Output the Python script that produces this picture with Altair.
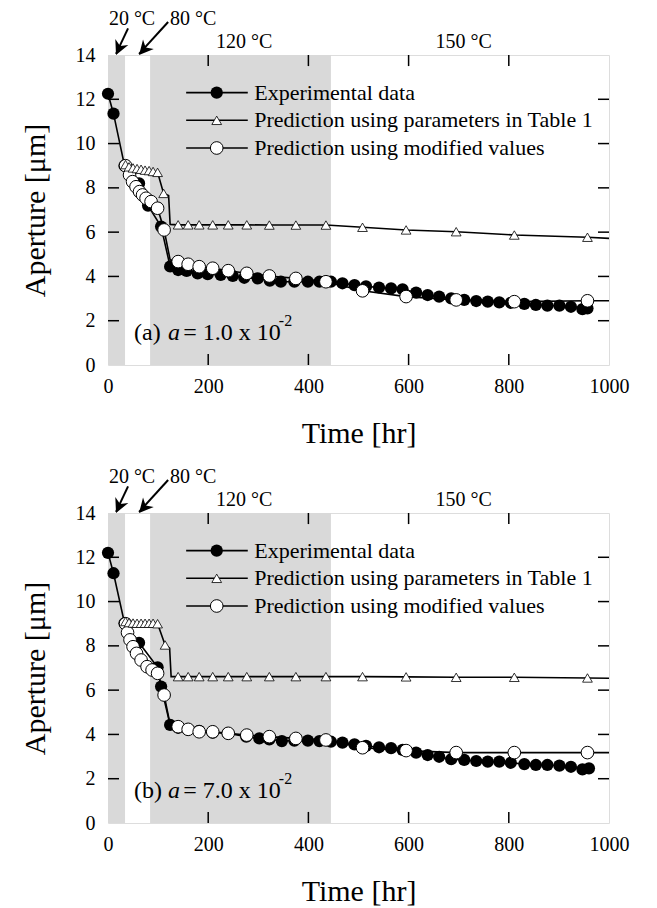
import altair as alt
import pandas as pd

FONT = "Liberation Serif"

# ---------------- data: panel (a) ----------------
exp_a_t = [0, 11, 33, 62, 80, 106, 124, 140, 157, 179, 199, 225, 249, 272, 299, 323, 345, 372, 399, 422, 445,
           468, 492, 515, 541, 565, 588, 615, 638, 661, 685, 711, 735, 758, 781, 804, 831, 854, 877, 901, 924, 947, 957]
exp_a = [12.25, 11.35, 9.0, 8.2, 7.2, 6.25, 4.45, 4.29, 4.25, 4.14, 4.1, 4.07, 4.02, 3.94, 3.91, 3.81, 3.76, 3.76, 3.76, 3.76, 3.76,
         3.69, 3.61, 3.55, 3.5, 3.46, 3.42, 3.27, 3.16, 3.09, 3.01, 2.94, 2.89, 2.86, 2.83, 2.81, 2.76, 2.71, 2.68, 2.68, 2.63, 2.52, 2.56]

tri_a_t = [35, 42, 50, 58, 66, 74, 82, 90, 99, 111, 140, 160, 182, 209, 240, 277, 322, 375, 435, 508, 595, 695, 811, 957]
tri_a = [9.05, 8.95, 8.9, 8.87, 8.84, 8.8, 8.78, 8.74, 8.7, 7.75, 6.33, 6.33, 6.33, 6.33, 6.33, 6.33, 6.32, 6.32, 6.32, 6.22,
         6.1, 6.02, 5.87, 5.77]
tri_a_line_t = [121, 124, 1000]
tri_a_line = [7.65, 6.35, 5.72]

mod_a_t = [35, 43, 49, 56, 63, 69, 76, 86, 99, 112, 140, 160, 182, 209, 240, 277, 322, 375, 435, 508, 595, 695, 811, 957]
mod_a = [9.0, 8.58, 8.28, 8.05, 7.83, 7.68, 7.53, 7.38, 7.08, 6.1, 4.67, 4.55, 4.44, 4.37, 4.26, 4.14, 4.02, 3.91, 3.76, 3.35,
         3.09, 2.94, 2.86, 2.9]
mod_a_line_t = [124, 1000]
mod_a_line = [4.75, 2.9]

# ---------------- data: panel (b) ----------------
exp_b_t = [0, 11, 33, 62, 99, 106, 124, 140, 159, 182, 209, 239, 276, 302, 322, 347, 372, 399, 422, 445, 468, 492, 515,
           541, 565, 588, 615, 638, 661, 685, 711, 735, 758, 781, 804, 831, 854, 877, 901, 924, 947, 960]
exp_b = [12.2, 11.28, 9.02, 8.14, 7.03, 6.16, 4.43, 4.3, 4.23, 4.16, 4.08, 4.05, 3.9, 3.82, 3.78, 3.7, 3.72, 3.72, 3.7, 3.67,
         3.63, 3.55, 3.48, 3.42, 3.38, 3.3, 3.18, 3.07, 2.99, 2.88, 2.85, 2.8, 2.77, 2.77, 2.72, 2.66, 2.62, 2.62, 2.59, 2.54, 2.42, 2.47]

tri_b_t = [35, 42, 50, 58, 66, 74, 82, 90, 99, 114, 140, 160, 182, 209, 240, 277, 322, 375, 435, 508, 595, 695, 811, 957]
tri_b = [9.1, 9.05, 9.03, 9.02, 9.02, 9.02, 9.02, 9.02, 9.0, 8.04, 6.61, 6.61, 6.61, 6.61, 6.61, 6.61, 6.61, 6.61, 6.61, 6.61,
         6.6, 6.58, 6.58, 6.55]
tri_b_line_t = [123, 126, 1000]
tri_b_line = [7.9, 6.61, 6.54]

mod_b_t = [35, 39, 44, 50, 57, 66, 78, 88, 99, 112, 140, 160, 182, 209, 240, 277, 322, 375, 435, 508, 595, 695, 811, 957]
mod_b = [9.0, 8.6, 8.27, 7.96, 7.66, 7.36, 7.06, 6.91, 6.76, 5.78, 4.35, 4.23, 4.12, 4.12, 4.05, 3.97, 3.9, 3.82, 3.75, 3.4,
         3.27, 3.18, 3.18, 3.18]
mod_b_line_t = [124, 1000]
mod_b_line = [4.45, 3.18]

# shaded temperature stages (hr)
shade_start = [0, 84]
shade_end = [34, 445]

# labels
legend_labels = ["Experimental data", "Prediction using parameters in Table 1", "Prediction using modified values"]
legend_y = [12.3, 11.05, 9.8]
temp_labels = ["20 °C", "80 °C", "120 °C", "150 °C"]
temp_t = [48, 170, 272, 710]
temp_y = [15.36, 15.36, 14.32, 14.32]
x_ticks = [0, 200, 400, 600, 800, 1000]
y_ticks = [0, 2, 4, 6, 8, 10, 12, 14]

XS = alt.Scale(domain=[0, 1000], nice=False, zero=False)
YS = alt.Scale(domain=[0, 14], nice=False, zero=False)
XAX = alt.Axis(values=x_ticks, format="d", ticks=False, domain=False, grid=False, labelFont=FONT, labelFontSize=20,
               labelColor="black", labelPadding=11, title="Time [hr]", titleFont=FONT, titleFontSize=30,
               titleFontWeight="normal", titleColor="black", titlePadding=22, labelFlush=False)
YAX = alt.Axis(values=y_ticks, ticks=False, domain=False, grid=False, labelFont=FONT, labelFontSize=20,
               labelColor="black", labelPadding=13, title="Aperture [μm]", titleFont=FONT, titleFontSize=30,
               titleFontWeight="normal", titleColor="black", titlePadding=25, labelFlush=False)


def X(f):
    return alt.X(f, type="quantitative", scale=XS, axis=XAX)


def Y(f):
    return alt.Y(f, type="quantitative", scale=YS, axis=YAX)


def series(t, a, lt, la):
    pts = pd.DataFrame({"t": t, "a": a})
    line = pd.concat([pts, pd.DataFrame({"t": lt, "a": la})]).sort_values("t")
    return pts, line


def panel(exp_t, exp_v, tri_t, tri_v, tri_lt, tri_lv, mod_t, mod_v, mod_lt, mod_lv, tag, coef):
    layers = []
    shade = pd.DataFrame({"t0": shade_start, "t1": shade_end, "y0": [0, 0], "y1": [14, 14]})
    layers.append(alt.Chart(shade).mark_rect(color="#d9d9d9").encode(x=X("t0"), x2="t1", y=Y("y0"), y2="y1"))

    # inward ticks
    tk = []
    for v in [2, 4, 6, 8, 10, 12]:
        tk.append({"x0": 0, "x1": 22, "y0": v, "y1": v})
        tk.append({"x0": 978, "x1": 1000, "y0": v, "y1": v})
    for v in [200, 400, 600, 800]:
        tk.append({"x0": v, "x1": v, "y0": 0, "y1": 0.5})
        tk.append({"x0": v, "x1": v, "y0": 13.5, "y1": 14})
    layers.append(alt.Chart(pd.DataFrame(tk)).mark_rule(color="black", strokeWidth=1.5).encode(
        x=X("x0"), x2="x1", y=Y("y0"), y2="y1"))

    e_pts, e_line = series(exp_t, exp_v, [], [])
    t_pts, t_line = series(tri_t, tri_v, tri_lt, tri_lv)
    m_pts, m_line = series(mod_t, mod_v, mod_lt, mod_lv)

    for ln in [e_line, t_line, m_line]:
        layers.append(alt.Chart(ln).mark_line(color="black", strokeWidth=1.6).encode(x=X("t"), y=Y("a")))
    layers.append(alt.Chart(e_pts).mark_point(shape="circle", filled=True, color="black", size=150, opacity=1)
                  .encode(x=X("t"), y=Y("a")))
    layers.append(alt.Chart(m_pts).mark_point(shape="circle", filled=True, fill="white", stroke="black",
                                              strokeWidth=1, size=160, opacity=1).encode(x=X("t"), y=Y("a")))
    layers.append(alt.Chart(t_pts).mark_point(shape="triangle-up", filled=True, fill="white", stroke="black",
                                              strokeWidth=0.8, size=95, opacity=1).encode(x=X("t"), y=Y("a")))

    # legend
    leg_line = pd.DataFrame({"x0": [156] * 3, "x1": [279] * 3, "y": legend_y})
    layers.append(alt.Chart(leg_line).mark_rule(color="black", strokeWidth=1.6).encode(
        x=X("x0"), x2="x1", y=Y("y")))
    mk = pd.DataFrame({"t": [217], "a": [legend_y[0]]})
    layers.append(alt.Chart(mk).mark_point(shape="circle", filled=True, color="black", size=150, opacity=1)
                  .encode(x=X("t"), y=Y("a")))
    mk = pd.DataFrame({"t": [217], "a": [legend_y[1]]})
    layers.append(alt.Chart(mk).mark_point(shape="triangle-up", filled=True, fill="white", stroke="black",
                                           strokeWidth=0.8, size=95, opacity=1).encode(x=X("t"), y=Y("a")))
    mk = pd.DataFrame({"t": [217], "a": [legend_y[2]]})
    layers.append(alt.Chart(mk).mark_point(shape="circle", filled=True, fill="white", stroke="black",
                                           strokeWidth=1, size=160, opacity=1).encode(x=X("t"), y=Y("a")))
    lt = pd.DataFrame({"t": [292] * 3, "a": legend_y, "s": legend_labels})
    layers.append(alt.Chart(lt).mark_text(align="left", baseline="middle", font=FONT, fontSize=22, color="black")
                  .encode(x=X("t"), y=Y("a"), text="s:N"))

    # temperature labels and arrows
    tl = pd.DataFrame({"t": temp_t, "a": temp_y, "s": temp_labels})
    layers.append(alt.Chart(tl).mark_text(align="center", baseline="alphabetic", font=FONT, fontSize=20,
                                          color="black").encode(x=X("t"), y=Y("a"), text="s:N"))
    arr = pd.DataFrame({"x0": [40, 120], "x1": [16, 62], "y0": [15.2, 15.49], "y1": [14.05, 14.05]})
    layers.append(alt.Chart(arr).mark_rule(color="black", strokeWidth=2).encode(
        x=X("x0"), x2="x1", y=Y("y0"), y2="y1"))
    heads = pd.DataFrame({"t": [16, 62], "a": [14.0, 14.0], "ang": [24, 41]})
    layers.append(alt.Chart(heads).mark_point(shape="M0,0L-0.75,-1.5L0,-1.05L0.75,-1.5Z", filled=True,
                                              color="black", size=360, opacity=1)
                  .encode(x=X("t"), y=Y("a"), angle=alt.Angle("ang:Q", scale=None)))

    # panel annotation
    ann = pd.DataFrame({"t": [52], "a": [1.13], "s": [tag]})
    layers.append(alt.Chart(ann).mark_text(align="left", baseline="alphabetic", font=FONT, fontSize=24,
                                           color="black").encode(x=X("t"), y=Y("a"), text="s:N"))
    ann = pd.DataFrame({"t": [120], "a": [1.13], "s": ["a"]})
    layers.append(alt.Chart(ann).mark_text(align="left", baseline="alphabetic", font=FONT, fontSize=24,
                                           fontStyle="italic", color="black").encode(x=X("t"), y=Y("a"), text="s:N"))
    ann = pd.DataFrame({"t": [150], "a": [1.13], "s": [coef]})
    layers.append(alt.Chart(ann).mark_text(align="left", baseline="alphabetic", font=FONT, fontSize=24,
                                           color="black").encode(x=X("t"), y=Y("a"), text="s:N"))
    ann = pd.DataFrame({"t": [341], "a": [1.78], "s": ["-2"]})
    layers.append(alt.Chart(ann).mark_text(align="left", baseline="alphabetic", font=FONT, fontSize=16,
                                           color="black").encode(x=X("t"), y=Y("a"), text="s:N"))

    return alt.layer(*layers).properties(width=501, height=310)


top = panel(exp_a_t, exp_a, tri_a_t, tri_a, tri_a_line_t, tri_a_line, mod_a_t, mod_a, mod_a_line_t, mod_a_line,
            "(a)", "= 1.0 x 10")
bottom = panel(exp_b_t, exp_b, tri_b_t, tri_b, tri_b_line_t, tri_b_line, mod_b_t, mod_b, mod_b_line_t, mod_b_line,
               "(b)", "= 7.0 x 10")

chart = alt.vconcat(top, bottom, spacing=148, bounds="flush").properties(
    padding={"left": 19, "top": 8, "right": 10, "bottom": 2}
).configure_view(stroke="black", strokeWidth=1.5).configure(background="white")

chart.save("out.html", embed_options={"renderer": "svg", "actions": False})
